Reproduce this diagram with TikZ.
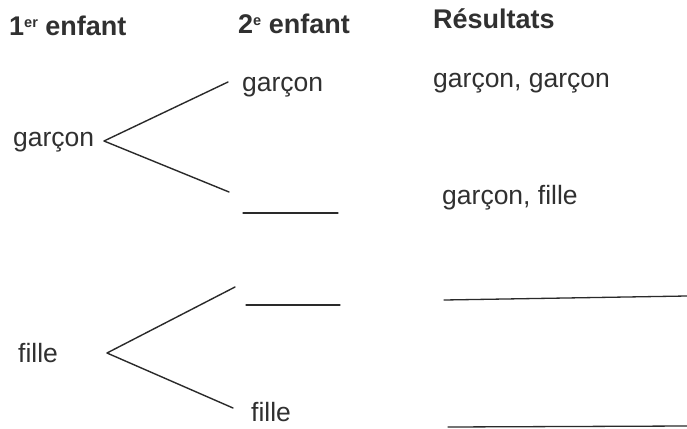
\documentclass[tikz,border=0pt]{standalone}
\usepackage{fontspec}
\setmainfont{Liberation Sans}
\definecolor{ink}{HTML}{303030}
\definecolor{lineink}{HTML}{2A2A2A}
\tikzset{
  txt/.style={anchor=base west, inner sep=0pt, text=ink, font=\fontsize{26.5}{30}\selectfont},
  head/.style={anchor=base west, inner sep=0pt, text=ink, font=\fontsize{27}{30}\selectfont\bfseries},
  branch/.style={draw=lineink, line width=1.4pt, line cap=round, line join=round},
  blank/.style={draw=lineink, line width=1.3pt, line cap=round}
}
\newcommand{\supx}[1]{\raisebox{8.5pt}{\fontsize{14.5}{14.5}\selectfont #1}}
\begin{document}
\begin{tikzpicture}[x=1pt,y=-1pt]
\useasboundingbox[fill=white] (0,0) rectangle (687,428);
% headers
\node[head] (h1) at (9,36) {1\supx{er} enfant};
\node[head] (h2) at (238,34) {2\supx{e} enfant};
\node[head] (h3) at (433,29) {Résultats};
% first child
\node[txt] (g1) at (13,146) {garçon};
\node[txt] (f1) at (18,362) {fille};
% second child
\node[txt] (g2) at (242,91) {garçon};
\node[txt] (f2) at (251,421) {fille};
% results
\node[txt] (r1) at (433,87) {garçon, garçon};
\node[txt] (r2) at (442,204) {garçon, fille};
% tree vertices and branch ends
\coordinate (v1) at (104,141);
\coordinate (a1) at (228,82);
\coordinate (b1) at (229,192);
\coordinate (v2) at (107,353);
\coordinate (a2) at (235,287);
\coordinate (b2) at (233,408);
\draw[branch] (a1) -- (v1) -- (b1);
\draw[branch] (a2) -- (v2) -- (b2);
% blanks
\coordinate (l1s) at (243,213);
\coordinate (l1e) at (338,213);
\coordinate (l2s) at (246,305);
\coordinate (l2e) at (340,305);
\coordinate (l3s) at (444,300);
\coordinate (l3e) at (687,296);
\coordinate (l4s) at (448,427);
\coordinate (l4e) at (687,426);
\draw[blank] (l1s) -- (l1e);
\draw[blank] (l2s) -- (l2e);
\draw[blank] (l3s) -- (l3e);
\draw[blank] (l4s) -- (l4e);
\end{tikzpicture}
\end{document}
